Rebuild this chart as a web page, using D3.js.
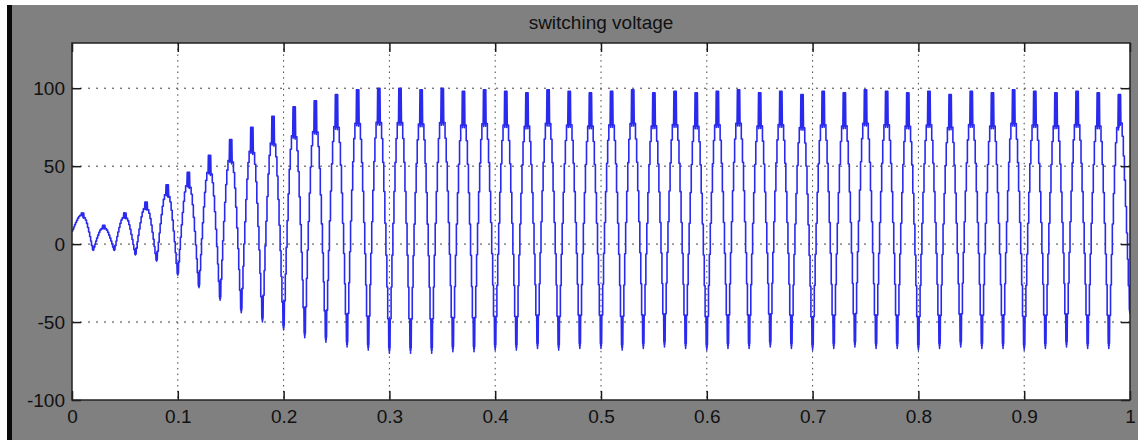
<!DOCTYPE html>
<html>
<head>
<meta charset="utf-8">
<script src="https://cdn.jsdelivr.net/npm/d3@7"></script>
<style>
	body { margin: 0; background: #ffffff; }
	svg { display: block; }
</style>
</head>
<body>
<script>

// scope title and axis ticks
var chartTitle = "switching voltage";
var xTicks = [0, 0.1, 0.2, 0.3, 0.4, 0.5, 0.6, 0.7, 0.8, 0.9, 1];
var yTicks = [-100, -50, 0, 50, 100];
var xGrid = [0.1, 0.2, 0.3, 0.4, 0.5, 0.6, 0.7, 0.8, 0.9];
var yGrid = [-50, 0, 50, 100];

// period of the switching voltage (s)
var period = 0.02;

// peak value of each cycle (one per 20 ms)
var peaks = [20, 12, 20, 27, 38, 46, 57, 67, 75, 82,
	88, 92, 96, 99, 100, 100, 99, 100, 98, 99,
	98, 97, 99, 98, 97, 98, 99, 97, 98, 97,
	98, 99, 97, 98, 96, 98, 97, 99, 98, 97,
	98, 96, 98, 97, 99, 98, 97, 98, 97, 96];

// trough value at the start of each cycle (t = 0, 0.02, ... 1.0)
var troughs = [8, -4, -4, -7, -11, -20, -28, -36, -44, -50,
	-55, -60, -63, -66, -68, -70, -70, -70, -69, -69,
	-68, -68, -67, -68, -67, -67, -68, -67, -66, -67,
	-68, -67, -67, -66, -67, -68, -67, -66, -67, -67,
	-68, -67, -66, -67, -67, -68, -67, -66, -67, -67,
	-45];

// staircase of one rising half cycle: [fraction of half period, fraction of swing]
// (switching chatter near trough and peak, then the voltage steps)
var riseShape = [
	[0.00, 0.00], [0.02, 0.12], [0.03, 0.01], [0.05, 0.13], [0.06, 0.02], [0.08, 0.13],
	[0.16, 0.13], [0.16, 0.25], [0.24, 0.25], [0.24, 0.37], [0.33, 0.37], [0.33, 0.49],
	[0.43, 0.49], [0.43, 0.61], [0.53, 0.61], [0.53, 0.72], [0.63, 0.72], [0.63, 0.81],
	[0.74, 0.81], [0.74, 0.87], [0.86, 0.87], [0.89, 1.00], [0.91, 0.86], [0.94, 1.00],
	[0.96, 0.87], [1.00, 1.00]
];



var width = 1138, height = 440;
var plot = { left: 72, right: 1130, top: 43, bottom: 400 };
var fontFamily = "'Liberation Sans', Arial, sans-serif";

var svg = d3.select("body").append("svg")
	.attr("width", width)
	.attr("height", height);

// figure background: white edge, black strip, grey panel
svg.append("rect").attr("width", width).attr("height", height).attr("fill", "#ffffff");
svg.append("rect").attr("x", 7).attr("y", 5).attr("width", width - 7).attr("height", height - 5).attr("fill", "#0a0a0a");
svg.append("rect").attr("x", 12).attr("y", 5).attr("width", width - 12).attr("height", height - 5).attr("fill", "#808080");

var x = d3.scaleLinear().domain([0, 1]).range([plot.left, plot.right]);
var y = d3.scaleLinear().domain([-100, 129]).range([plot.bottom, plot.top]);

// plot area
svg.append("rect")
	.attr("x", plot.left).attr("y", plot.top)
	.attr("width", plot.right - plot.left).attr("height", plot.bottom - plot.top)
	.attr("fill", "#ffffff");

svg.append("clipPath").attr("id", "clip")
	.append("rect")
	.attr("x", plot.left).attr("y", plot.top)
	.attr("width", plot.right - plot.left).attr("height", plot.bottom - plot.top);

// dotted grid
svg.append("g").selectAll("line").data(xGrid).join("line")
	.attr("x1", d => x(d)).attr("x2", d => x(d))
	.attr("y1", plot.top).attr("y2", plot.bottom)
	.attr("stroke", "#444").attr("stroke-width", 1)
	.attr("stroke-dasharray", "1.5,4.2");
svg.append("g").selectAll("line").data(yGrid).join("line")
	.attr("x1", plot.left).attr("x2", plot.right)
	.attr("y1", d => y(d)).attr("y2", d => y(d))
	.attr("stroke", "#444").attr("stroke-width", 1)
	.attr("stroke-dasharray", "2,6");

// build the waveform cycle by cycle from the read peaks / troughs
var wave = [];
for (var k = 0; k < peaks.length; k++) {
	var t0 = k * period, half = period / 2;
	var lo0 = troughs[k], hi = peaks[k], lo1 = troughs[k + 1];
	riseShape.forEach(function (p) {
		wave.push([t0 + p[0] * half, lo0 + (hi - lo0) * p[1]]);
	});
	// falling half is the mirror of the rising one
	for (var i = riseShape.length - 1; i >= 0; i--) {
		var p = riseShape[i];
		wave.push([t0 + half + (1 - p[0]) * half, lo1 + (hi - lo1) * p[1]]);
	}
}

var line = d3.line().x(d => x(d[0])).y(d => y(d[1]));

svg.append("path")
	.datum(wave)
	.attr("clip-path", "url(#clip)")
	.attr("d", line)
	.attr("fill", "none")
	.attr("stroke", "#2a2aee")
	.attr("stroke-width", 1.6)
	.attr("stroke-linejoin", "round");

// axes: ticks inside the box on all four sides, plain hyphen for minus
var tickLen = 9;
var axisColor = "#1a1a1a";
var fmt = function (d) { return String(d); };
var xAxisBottom = d3.axisBottom(x).tickValues(xTicks).tickSize(-tickLen).tickFormat(fmt);
var xAxisTop = d3.axisTop(x).tickValues(xTicks).tickSize(-tickLen).tickFormat("");
var yAxisLeft = d3.axisLeft(y).tickValues(yTicks).tickSize(-tickLen).tickFormat(fmt);
var yAxisRight = d3.axisRight(y).tickValues(yTicks).tickSize(-tickLen).tickFormat("");

function styleAxis(g) {
	g.select(".domain").remove();
	g.selectAll(".tick line").attr("stroke", axisColor).attr("stroke-width", 1.5);
	g.selectAll(".tick text")
		.attr("fill", "#111")
		.style("font-family", fontFamily)
		.style("font-size", "19px");
}

svg.append("g").attr("transform", "translate(0," + plot.bottom + ")").call(xAxisBottom).call(styleAxis)
	.selectAll(".tick text").attr("y", 10).attr("dy", "0.71em");
svg.append("g").attr("transform", "translate(0," + plot.top + ")").call(xAxisTop).call(styleAxis);
svg.append("g").attr("transform", "translate(" + plot.left + ",0)").call(yAxisLeft).call(styleAxis)
	.selectAll(".tick text").attr("x", -7).attr("dy", "0.35em");
svg.append("g").attr("transform", "translate(" + plot.right + ",0)").call(yAxisRight).call(styleAxis);

// box round the plot
svg.append("rect")
	.attr("x", plot.left).attr("y", plot.top)
	.attr("width", plot.right - plot.left).attr("height", plot.bottom - plot.top)
	.attr("fill", "none")
	.attr("stroke", "#222").attr("stroke-width", 1.5);

// title
svg.append("text")
	.attr("x", (plot.left + plot.right) / 2)
	.attr("y", 29)
	.attr("text-anchor", "middle")
	.attr("fill", "#111")
	.style("font-family", fontFamily)
	.style("font-size", "19px")
	.text(chartTitle);

</script>
</body>
</html>
